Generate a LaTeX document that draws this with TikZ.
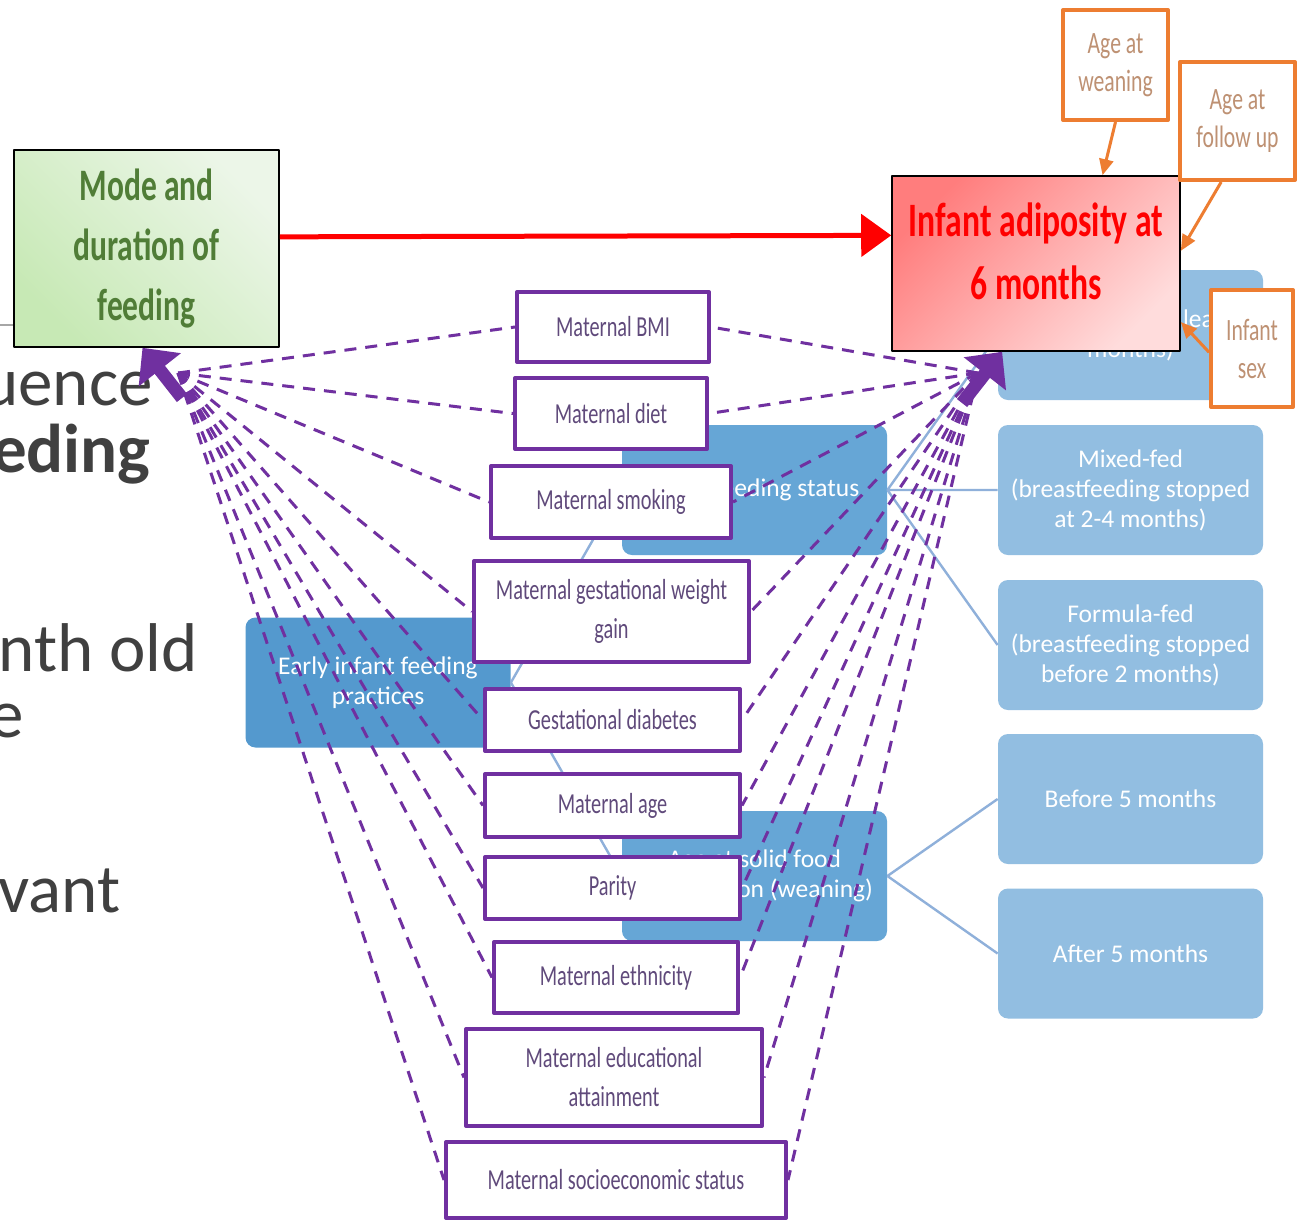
\documentclass[tikz,border=0pt]{standalone}
\usepackage{fontspec}
\setmainfont{Carlito}
\newfontfamily\narrowfont[FakeStretch=0.7]{Carlito}
\usetikzlibrary{arrows.meta}
\pgfdeclarelayer{bottom}
\pgfdeclarelayer{back}
\pgfsetlayers{bottom,back,main}
\definecolor{purp}{RGB}{112,48,160}
\definecolor{purptext}{RGB}{96,74,123}
\definecolor{darkblue}{RGB}{84,153,206}
\definecolor{midblue}{RGB}{102,166,214}
\definecolor{liteblue}{RGB}{146,190,225}
\definecolor{linkblue}{RGB}{143,176,218}
\definecolor{orng}{RGB}{237,125,49}
\definecolor{orngtext}{RGB}{190,145,115}
\definecolor{slidegray}{RGB}{64,64,64}
\definecolor{leafgreen}{RGB}{80,125,55}
\definecolor{greenlite}{RGB}{236,246,232}
\definecolor{greendark}{RGB}{199,233,181}
\definecolor{redlite}{RGB}{255,220,220}
\definecolor{reddark}{RGB}{255,125,125}
\begin{document}
\begin{tikzpicture}[x=0.5pt,y=-0.5pt,line join=round,
  level/.style={rounded corners=5pt,inner sep=0pt,text=white,align=center,minimum width=132.5pt,minimum height=65pt,font=\fontsize{12.75}{15}\selectfont},
  factor/.style={draw=purp,line width=2pt,fill=white,inner sep=0pt,align=center,text=purptext,font=\narrowfont\fontsize{14.5}{19.5}\selectfont},
  factorlink/.style={purp,line width=1.5pt,dash pattern=on 6pt off 4.5pt},
  bigarrow/.style={purp,line width=6.5pt,-{Triangle[length=14pt,width=26pt]}},
  covar/.style={draw=orng,line width=2pt,fill=white,inner sep=0pt,align=center,text=orngtext,font=\narrowfont\fontsize{15.5}{19}\selectfont},
  covarlink/.style={orng,line width=1.5pt,-{Triangle[length=8pt,width=7pt]}},
  slide/.style={anchor=base east,inner sep=0pt,text=slidegray,font=\fontsize{34.5}{40}\selectfont}]
\useasboundingbox (0,0) rectangle (1299,1221);

% feeding hierarchy
\begin{pgfonlayer}{bottom}
\fill[white] (0,0) rectangle (1299,1221);
\node[level,fill=darkblue] (early) at (378,682.5) {Early infant feeding\\practices};
\node[level,fill=midblue] (bfstatus) at (754.5,490) {Breastfeeding status};
\node[level,fill=midblue] (weaning) at (754.5,876) {Age at solid food\\introduction (weaning)};
\node[level,fill=liteblue] (bfed) at (1130.5,335) {};
\node[text=white,align=center,inner sep=0pt,font=\fontsize{12.75}{15}\selectfont] (bfedtext) at ([yshift=7.5pt]bfed.center) {Breastfed\\(breastfed for at least 4\\months)};
\node[level,fill=liteblue] (mixed) at (1130.5,490) {Mixed-fed\\(breastfeeding stopped\\at 2-4 months)};
\node[level,fill=liteblue] (formula) at (1130.5,645) {Formula-fed\\(breastfeeding stopped\\before 2 months)};
\node[level,fill=liteblue] (before) at (1130.5,799) {Before 5 months};
\node[level,fill=liteblue] (after) at (1130.5,953.5) {After 5 months};
\draw[linkblue,line width=1.2pt] (early.east) -- (bfstatus.west) (early.east) -- (weaning.west)
  (bfstatus.east) -- (bfed.west) (bfstatus.east) -- (mixed.west) (bfstatus.east) -- (formula.west)
  (weaning.east) -- (before.west) (weaning.east) -- (after.west);
\end{pgfonlayer}

% slide behind the diagram
\draw[gray!70,line width=0.6pt] (0,325) -- (14,325);
\node[slide] (s1) at (153,405) {uence};
\node[slide,font=\fontsize{34.5}{40}\selectfont\bfseries] (s2) at (151,472) {eding};
\node[slide] (s3) at (198,671) {nth old};
\node[slide] (s4) at (24,737) {e};
\node[slide] (s5) at (121,912) {vant};

% maternal factors
\foreach \n/\x/\y/\w/\h/\t in {
  bmi/613/327/96pt/35pt/{Maternal BMI},
  diet/611/413.5/96pt/35.5pt/{Maternal diet},
  smoke/611/502/120pt/36pt/{Maternal smoking},
  gwg/611.5/611.5/137.5pt/50.5pt/{Maternal gestational weight\\gain},
  gdm/612.5/720/127.5pt/31pt/{Gestational diabetes},
  matage/612.5/805.5/127.5pt/31.5pt/{Maternal age},
  parity/612.5/888/127.5pt/31pt/{Parity},
  ethn/616/977.5/122pt/35.5pt/{Maternal ethnicity},
  educ/614/1077.5/148pt/48.5pt/{Maternal educational\\attainment},
  ses/616/1180/170pt/38pt/{Maternal socioeconomic status}}
  \node[factor,minimum width=\w,minimum height=\h] (\n) at (\x,\y) {\t};

\coordinate (convL) at (178,373);
\coordinate (convR) at (978,373);
\coordinate (tailL) at (182,398);
\coordinate (tailR) at (962,403);
\begin{pgfonlayer}{back}
\foreach \n in {bmi,diet,smoke,gwg,gdm,matage,parity,ethn,educ,ses}
  \draw[factorlink] (convL) -- (\n.west) (convR) -- (\n.east);
\end{pgfonlayer}

% exposure and outcome
\node[draw,line width=0.8pt,inner sep=0pt,minimum width=132.5pt,minimum height=98.5pt,
  top color=greenlite,bottom color=greendark,shading angle=-45,align=center,text=leafgreen,
  font=\narrowfont\bfseries\fontsize{22.5}{30}\selectfont] (mode) at (146.5,248.5) {Mode and\\duration of\\feeding};
\node[draw,line width=0.8pt,inner sep=0pt,minimum width=144pt,minimum height=87.5pt,
  top color=reddark,bottom color=redlite,shading angle=45] (adipos) at (1036,263.5) {};
\node[align=center,inner sep=0pt,text=red,font=\narrowfont\bfseries\fontsize{24}{31.5}\selectfont] (adipostext) at ([yshift=6pt]adipos.center) {Infant adiposity at\\6 months};
\draw[red,line width=2.5pt,-{Triangle[length=15pt,width=21pt]}] (mode.5) -- (adipos.169);
\draw[bigarrow] (tailL) -- ([xshift=-2pt]mode.south);
\draw[bigarrow] (tailR) -- (adipos.-111);

% covariates
\node[covar,minimum width=52.5pt,minimum height=55pt] (agewean) at (1115.5,65) {Age at\\weaning};
\node[covar,minimum width=57.5pt,minimum height=59pt] (ageup) at (1237.5,121) {Age at\\follow up};
\node[covar,minimum width=41pt,minimum height=58.5pt] (sex) at (1252,348.5) {Infant\\sex};
\draw[covarlink] (agewean.south) -- (adipos.53);
\draw[covarlink] (ageup.-105) -- (adipos.5);
\draw[covarlink] (sex.185) -- (adipos.-22);
\end{tikzpicture}
\end{document}
